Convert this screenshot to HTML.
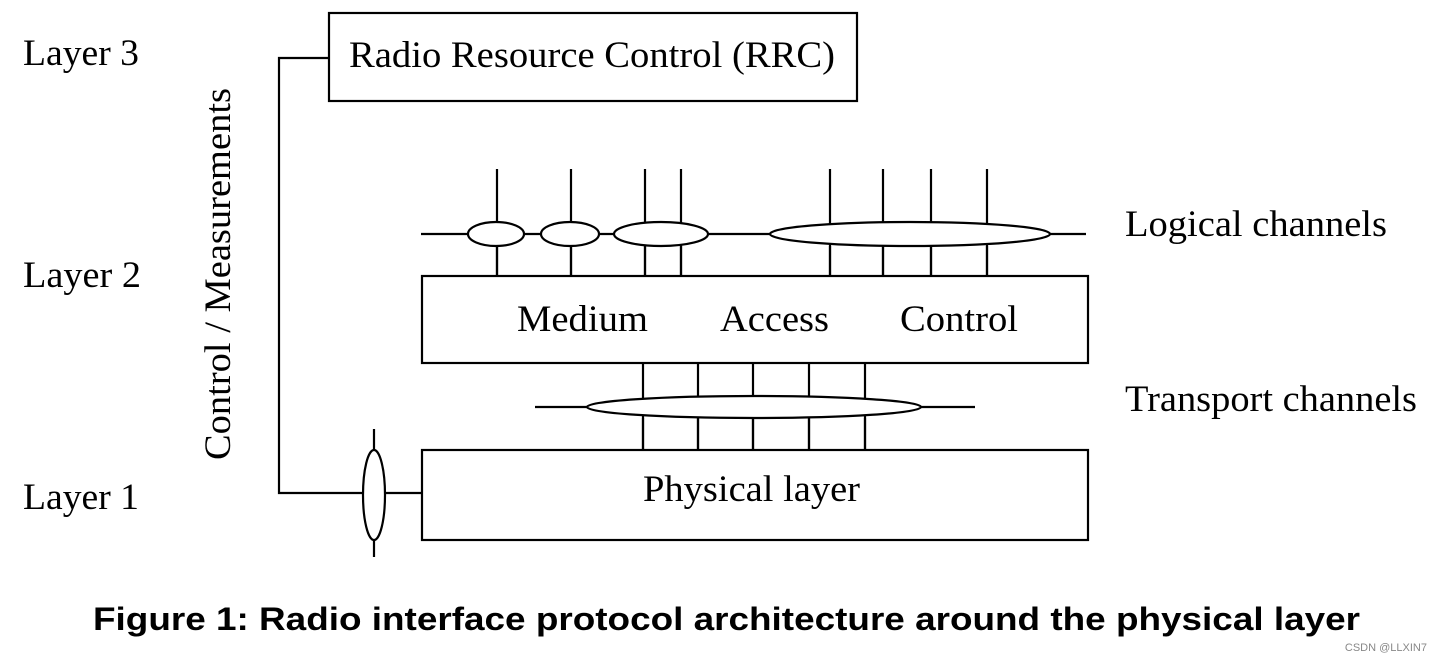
<!DOCTYPE html>
<html><head><meta charset="utf-8"><style>
html,body{margin:0;padding:0;background:#fff;}
svg{display:block;}
.t{font-family:"Liberation Serif",serif;font-size:37px;fill:#000;}
</style></head><body>
<svg width="1442" height="662" viewBox="0 0 1442 662" xmlns="http://www.w3.org/2000/svg">
<g stroke="#000" stroke-width="2.2" fill="none">
<rect x="329" y="13" width="528" height="88"/>
<rect x="422" y="276" width="666" height="87"/>
<rect x="422" y="450" width="666" height="90"/>
<polyline points="329,58 279,58 279,493 422,493"/>
<line x1="374" y1="429" x2="374" y2="557"/>
<line x1="497" y1="169" x2="497" y2="276"/>
<line x1="571" y1="169" x2="571" y2="276"/>
<line x1="645" y1="169" x2="645" y2="276"/>
<line x1="681" y1="169" x2="681" y2="276"/>
<line x1="830" y1="169" x2="830" y2="276"/>
<line x1="883" y1="169" x2="883" y2="276"/>
<line x1="931" y1="169" x2="931" y2="276"/>
<line x1="987" y1="169" x2="987" y2="276"/>
<line x1="421" y1="234" x2="1086" y2="234"/>
<line x1="643" y1="363" x2="643" y2="450"/>
<line x1="698" y1="363" x2="698" y2="450"/>
<line x1="753" y1="363" x2="753" y2="450"/>
<line x1="809" y1="363" x2="809" y2="450"/>
<line x1="865" y1="363" x2="865" y2="450"/>
<line x1="535" y1="407" x2="975" y2="407"/>
</g>
<g stroke="#000" stroke-width="2.2" fill="#fff">
<ellipse cx="496" cy="234" rx="28" ry="12"/>
<ellipse cx="570" cy="234" rx="29" ry="12"/>
<ellipse cx="661" cy="234" rx="47" ry="12"/>
<ellipse cx="910" cy="234" rx="140" ry="12"/>
<ellipse cx="754" cy="407" rx="167" ry="11"/>
<ellipse cx="374" cy="495" rx="11" ry="45"/>
</g>
<g stroke="#000" stroke-width="2.2">
<line x1="497" y1="246" x2="497" y2="276"/><line x1="571" y1="246" x2="571" y2="276"/>
<line x1="645" y1="246" x2="645" y2="276"/><line x1="681" y1="246" x2="681" y2="276"/>
<line x1="830" y1="246" x2="830" y2="276"/><line x1="883" y1="246" x2="883" y2="276"/>
<line x1="931" y1="246" x2="931" y2="276"/><line x1="987" y1="246" x2="987" y2="276"/>
<line x1="643" y1="418" x2="643" y2="450"/><line x1="698" y1="418" x2="698" y2="450"/>
<line x1="753" y1="418" x2="753" y2="450"/><line x1="809" y1="418" x2="809" y2="450"/>
<line x1="865" y1="418" x2="865" y2="450"/>
</g>
<text class="t" x="23" y="65" textLength="116" lengthAdjust="spacingAndGlyphs">Layer 3</text>
<text class="t" x="23" y="287" textLength="118" lengthAdjust="spacingAndGlyphs">Layer 2</text>
<text class="t" x="23" y="509" textLength="116" lengthAdjust="spacingAndGlyphs">Layer 1</text>
<text class="t" x="349" y="67" textLength="486" lengthAdjust="spacingAndGlyphs">Radio Resource Control (RRC)</text>
<text class="t" x="517" y="331" textLength="131" lengthAdjust="spacingAndGlyphs">Medium</text>
<text class="t" x="720" y="331" textLength="109" lengthAdjust="spacingAndGlyphs">Access</text>
<text class="t" x="900" y="331" textLength="118" lengthAdjust="spacingAndGlyphs">Control</text>
<text class="t" x="643" y="501" textLength="217" lengthAdjust="spacingAndGlyphs">Physical layer</text>
<text class="t" x="1125" y="236" textLength="262" lengthAdjust="spacingAndGlyphs">Logical channels</text>
<text class="t" x="1125" y="411" textLength="292" lengthAdjust="spacingAndGlyphs">Transport channels</text>
<text class="t" x="0" y="0" textLength="372" lengthAdjust="spacingAndGlyphs" transform="translate(230,460) rotate(-90)">Control / Measurements</text>
<text x="93" y="630" textLength="1267" lengthAdjust="spacingAndGlyphs" font-family="Liberation Sans, sans-serif" font-weight="bold" font-size="32">Figure 1: Radio interface protocol architecture around the physical layer</text>
<text x="1427" y="651" text-anchor="end" font-family="Liberation Sans, sans-serif" font-size="11" fill="#888">CSDN @LLXIN7</text>
</svg>
</body></html>
